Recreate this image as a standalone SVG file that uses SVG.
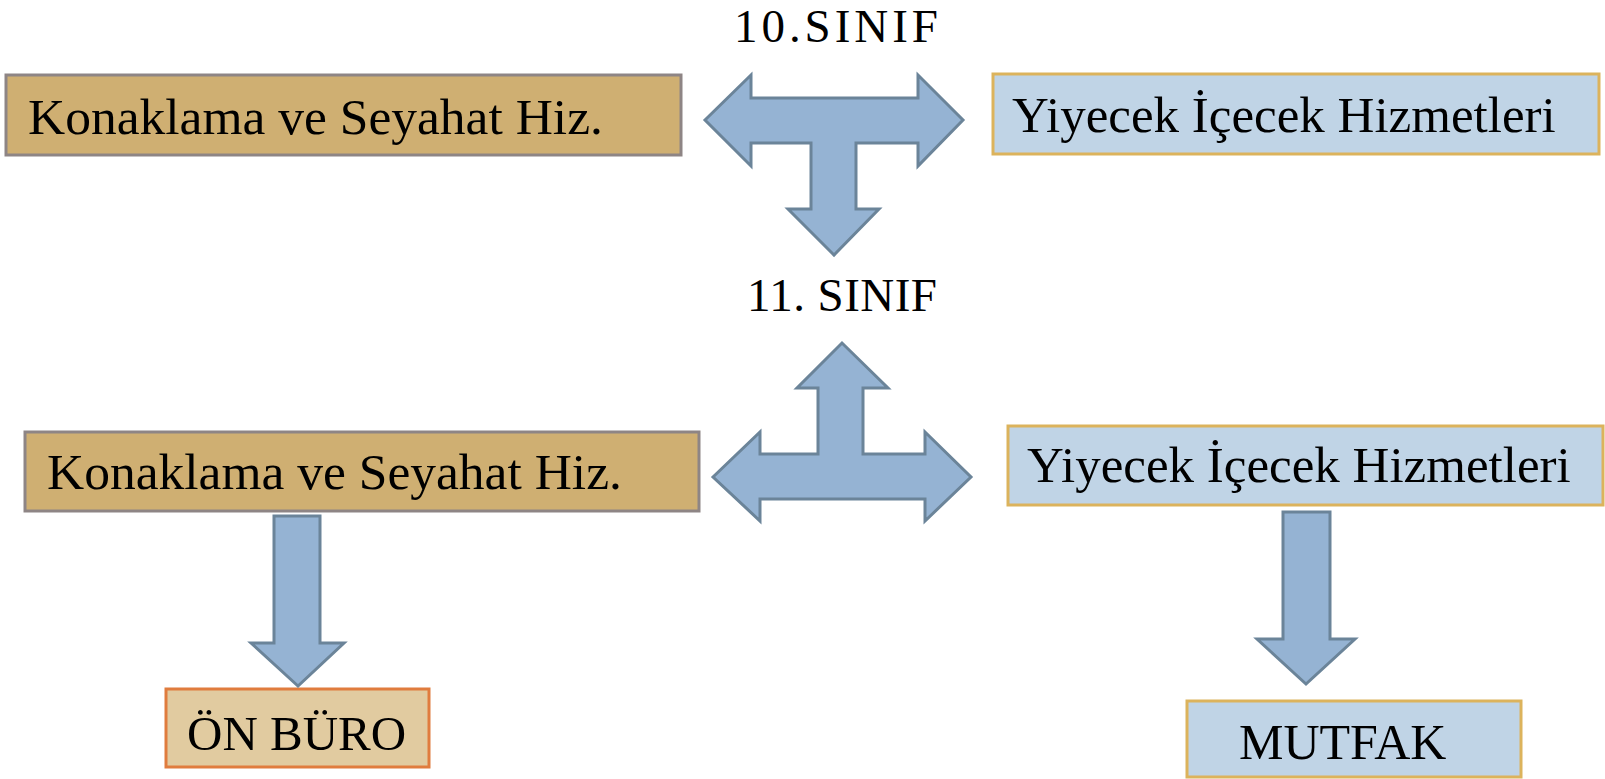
<svg xmlns="http://www.w3.org/2000/svg" width="1605" height="779" viewBox="0 0 1605 779">
<style>
.tan{fill:#CFAF72;stroke:#8E8585;stroke-width:3}
.blue{fill:#C0D4E6;stroke:#DCB35C;stroke-width:3}
.ob{fill:#E1CBA0;stroke:#E07C3E;stroke-width:3}
.arr{fill:#95B3D3;stroke:#6B8499;stroke-width:3;stroke-linejoin:miter}
text{font-family:"Liberation Serif","Times New Roman",serif;fill:#000}
.big{font-size:51.5px}
.lbl{font-size:47px}
</style>
<rect width="1605" height="779" fill="#fff"/>
<text class="lbl" x="734" y="42" textLength="204" lengthAdjust="spacing">10.SINIF</text>
<text class="lbl" x="747" y="311" textLength="190" lengthAdjust="spacing">11. SINIF</text>
<g id="node-konaklama-10">
<rect class="tan" x="6" y="75" width="675" height="80"/>
<text class="big" x="28" y="134">Konaklama ve Seyahat Hiz.</text>
</g>
<g id="node-yiyecek-10">
<rect class="blue" x="993" y="74" width="606" height="80"/>
<text class="big" x="1012" y="132" style="font-size:51px">Yiyecek İçecek Hizmetleri</text>
</g>
<g id="node-konaklama-11">
<rect class="tan" x="25" y="432" width="674" height="79"/>
<text class="big" x="47" y="489">Konaklama ve Seyahat Hiz.</text>
</g>
<g id="node-yiyecek-11">
<rect class="blue" x="1008" y="426" width="595" height="79"/>
<text class="big" x="1027" y="482" style="font-size:51px">Yiyecek İçecek Hizmetleri</text>
</g>
<g id="node-onburo">
<rect class="ob" x="166" y="689" width="263" height="78"/>
<text class="big" x="187" y="750" style="font-size:49px">ÖN BÜRO</text>
</g>
<g id="node-mutfak">
<rect class="blue" x="1187" y="701" width="334" height="76"/>
<text class="big" x="1239" y="759" style="font-size:50px">MUTFAK</text>
</g>
<g id="connectors">
<path class="arr" d="M705,120 L751,75 L751,98 L918,98 L918,75 L963,120 L918,166 L918,143 L856,143 L856,209 L879,209 L834,255 L788,209 L811,209 L811,143 L751,143 L751,166 Z"/>
<path class="arr" d="M713,477 L760,432 L760,454 L818,454 L818,388 L797,388 L842,343 L888,388 L863,388 L863,454 L925,454 L925,432 L971,477 L925,521 L925,499 L760,499 L760,521 Z"/>
<path class="arr" d="M274,516 L320,516 L320,643 L344,643 L298,686 L251,643 L274,643 Z"/>
<path class="arr" d="M1283,512 L1330,512 L1330,639 L1355,639 L1306,684 L1257,639 L1283,639 Z"/>
</g>
</svg>
